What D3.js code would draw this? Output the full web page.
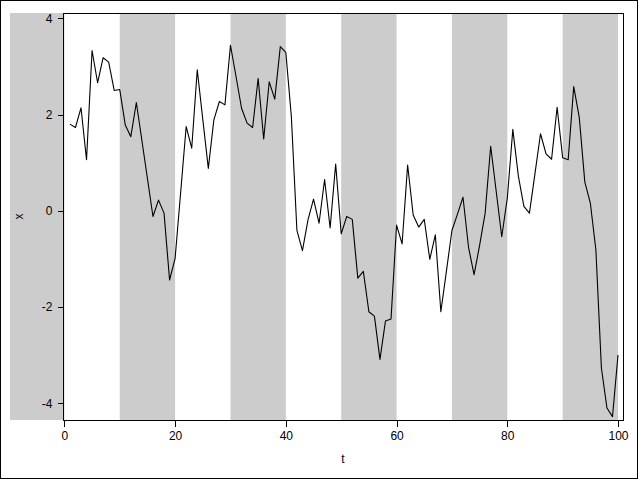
<!DOCTYPE html>
<html>
<head>
  <meta charset="UTF-8">
  <title>x by t</title>
  <script src="https://d3js.org/d3.v7.min.js"></script>
  <style>
    body { margin: 0; background: white; }
    text { font-family: "Liberation Sans", Arial, sans-serif; font-size: 12px; fill: #000; }
    .axis path, .axis line { stroke: #000; shape-rendering: crispEdges; }
  </style>
</head>
<body>
  <svg width="640" height="480"></svg>
  <script>
    const t = d3.range(1, 101);
    const x = [
      1.80, 1.73, 2.14, 1.06, 3.33, 2.66, 3.18, 3.09, 2.50, 2.52,
      1.78, 1.54, 2.25, 1.46, 0.67, -0.12, 0.22, -0.05, -1.44, -0.99,
      0.38, 1.75, 1.30, 2.93, 1.90, 0.88, 1.89, 2.27, 2.20, 3.44,
      2.79, 2.13, 1.82, 1.73, 2.75, 1.49, 2.68, 2.32, 3.41, 3.29,
      1.95, -0.41, -0.83, -0.19, 0.24, -0.26, 0.65, -0.36, 0.97, -0.48,
      -0.12, -0.18, -1.40, -1.26, -2.10, -2.19, -3.09, -2.29, -2.25, -0.30,
      -0.69, 0.95, -0.09, -0.34, -0.18, -1.01, -0.50, -2.10, -1.26, -0.41,
      -0.07, 0.28, -0.76, -1.33, -0.72, -0.05, 1.34, 0.40, -0.54, 0.26,
      1.69, 0.72, 0.09, -0.05, 0.77, 1.60, 1.18, 1.07, 2.15, 1.10,
      1.06, 2.58, 1.94, 0.60, 0.16, -0.81, -3.27, -4.10, -4.28, -3.00
    ];
    const bandStarts = [-10, 10, 30, 50, 70, 90];
    const bandWidth = 10;
    const xTicks = [0, 20, 40, 60, 80, 100];
    const yTicks = [-4, -2, 0, 2, 4];

    const svg = d3.select("svg");
    const frame = { left: 63, right: 623, top: 13, bottom: 420 };

    const xScale = d3.scaleLinear()
      .domain([-0.25, 100.9])
      .range([frame.left, frame.right]);
    const yScale = d3.scaleLinear()
      .domain([-4.35, 4.11])
      .range([frame.bottom, frame.top]);

    // outer border
    svg.append("rect")
      .attr("x", 0.5).attr("y", 0.5)
      .attr("width", 637).attr("height", 478)
      .attr("fill", "white").attr("stroke", "#000");

    // gray bands
    svg.append("g").selectAll("rect")
      .data(bandStarts)
      .join("rect")
      .attr("x", d => Math.max(10, xScale(d)))
      .attr("y", frame.top)
      .attr("width", d => xScale(d + bandWidth) - Math.max(10, xScale(d)))
      .attr("height", frame.bottom - frame.top)
      .attr("fill", "#cccccc");

    // series
    const line = d3.line()
      .x((d, i) => xScale(t[i]))
      .y(d => yScale(d));
    svg.append("path")
      .datum(x)
      .attr("d", line)
      .attr("fill", "none")
      .attr("stroke", "#000")
      .attr("stroke-width", 1.1)
      .attr("stroke-linejoin", "round");

    // frame
    svg.append("rect")
      .attr("x", frame.left + 0.5).attr("y", frame.top + 0.5)
      .attr("width", frame.right - frame.left).attr("height", frame.bottom - frame.top)
      .attr("fill", "none").attr("stroke", "#000")
      .attr("shape-rendering", "crispEdges");

    const fmt = d => String(d);

    svg.append("g")
      .attr("class", "axis")
      .attr("transform", `translate(0,${frame.bottom + 0.5})`)
      .call(d3.axisBottom(xScale).tickValues(xTicks).tickFormat(fmt).tickSize(6).tickPadding(5).tickSizeOuter(0))
      .call(g => g.select(".domain").remove())
      .call(g => g.selectAll("text").style("font-size", "12px").attr("font-family", null));

    svg.append("g")
      .attr("class", "axis")
      .attr("transform", `translate(${frame.left + 0.5},0)`)
      .call(d3.axisLeft(yScale).tickValues(yTicks).tickFormat(fmt).tickSize(6).tickPadding(5).tickSizeOuter(0))
      .call(g => g.select(".domain").remove())
      .call(g => g.selectAll("text").style("font-size", "12px").attr("font-family", null));

    svg.selectAll(".axis .tick line").attr("stroke", "#555");

    // axis labels
    svg.append("text")
      .attr("x", (frame.left + frame.right) / 2)
      .attr("y", 463)
      .attr("text-anchor", "middle")
      .text("t");
    svg.append("text")
      .attr("transform", `translate(23,${(frame.top + frame.bottom) / 2}) rotate(-90)`)
      .attr("text-anchor", "middle")
      .text("x");
  </script>
</body>
</html>
